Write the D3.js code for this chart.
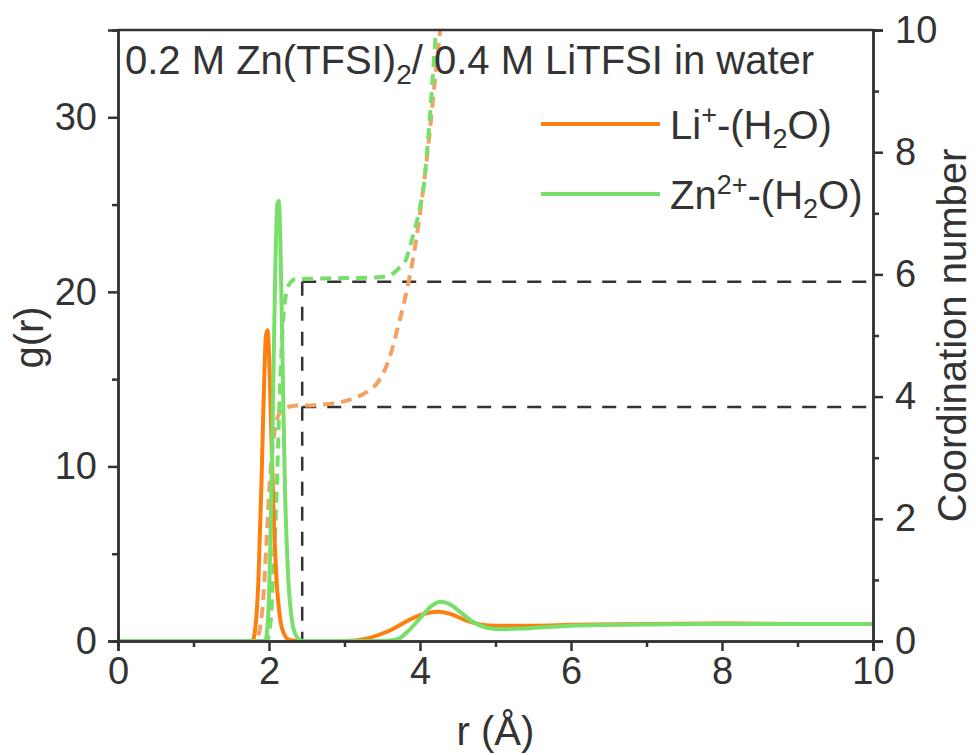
<!DOCTYPE html>
<html lang="en">
<head>
<meta charset="utf-8" />
<title>RDF and coordination number</title>
<script src="https://d3js.org/d3.v7.min.js"></script>
<style>
  body { margin: 0; background: #fff; }
  text { font-family: "Liberation Sans", Arial, sans-serif; fill: #333; }
</style>
</head>
<body>
<div id="chart"></div>
<script>
// g(r) for Li+-(H2O)
const liR = [0, 1.78, 1.82, 1.86, 1.90, 1.93, 1.96, 1.98, 2.00, 2.03, 2.06, 2.10, 2.15, 2.20, 2.28, 2.5, 3.0, 3.3, 3.6, 3.9, 4.1, 4.25, 4.4, 4.6, 4.8, 5.0, 5.5, 6, 7, 8, 9, 10];
const liG = [0, 0, 0.8, 3.5, 9, 14, 17.5, 17.8, 16.5, 12, 7.5, 3.5, 1.2, 0.4, 0.05, 0, 0, 0.15, 0.6, 1.3, 1.6, 1.68, 1.55, 1.2, 0.95, 0.88, 0.88, 0.93, 0.97, 1.0, 0.98, 0.97];

// g(r) for Zn2+-(H2O)
const znR = [0, 1.95, 1.99, 2.02, 2.05, 2.08, 2.11, 2.13, 2.15, 2.18, 2.21, 2.25, 2.30, 2.36, 2.45, 3.0, 3.5, 3.7, 3.85, 4.0, 4.15, 4.27, 4.4, 4.55, 4.7, 4.9, 5.1, 5.4, 6, 7, 8, 9, 10];
const znG = [0, 0, 1.5, 6, 13, 20.5, 25, 25.2, 23, 16, 9, 4, 1.3, 0.3, 0, 0, 0, 0.1, 0.6, 1.3, 2.0, 2.25, 2.1, 1.6, 1.1, 0.75, 0.68, 0.72, 0.88, 0.95, 0.97, 0.97, 0.97];

// coordination numbers (right axis)
const liCnR = [0, 1.82, 1.88, 1.93, 1.97, 2.01, 2.05, 2.10, 2.15, 2.22, 2.35, 2.6, 2.9, 3.1, 3.3, 3.45, 3.6, 3.7, 3.8, 3.9, 4.0, 4.1, 4.2, 4.3];
const liCn = [0, 0, 0.2, 0.8, 1.7, 2.6, 3.2, 3.6, 3.75, 3.82, 3.85, 3.86, 3.9, 3.96, 4.08, 4.25, 4.65, 5.1, 5.6, 6.2, 7.0, 8.0, 9.2, 10.4];
const znCnR = [0, 1.97, 2.02, 2.06, 2.10, 2.13, 2.16, 2.19, 2.23, 2.28, 2.35, 2.6, 3.0, 3.4, 3.55, 3.65, 3.72, 3.8, 3.9, 4.0, 4.05, 4.1, 4.15, 4.2, 4.25];
const znCn = [0, 0, 0.3, 1.2, 2.4, 3.6, 4.6, 5.3, 5.7, 5.86, 5.92, 5.93, 5.94, 5.95, 5.97, 6.02, 6.1, 6.2, 6.6, 7.1, 7.45, 8.1, 8.9, 9.8, 10.6];

// guide lines: first-shell cutoff and plateau values
const cutoffR = 2.44;
const plateauCn = [5.88, 3.83];

const xTicks = [0, 2, 4, 6, 8, 10];
const yTicks = [0, 10, 20, 30];
const cnTicks = [0, 2, 4, 6, 8, 10];

const W = 976, H = 755;
const margin = { top: 30, right: 103, bottom: 114, left: 118 };
const width = W - margin.left - margin.right;
const height = H - margin.top - margin.bottom;

const svg = d3.select("#chart").append("svg")
    .attr("width", W)
    .attr("height", H);

const g = svg.append("g")
    .attr("transform", `translate(${margin.left},${margin.top})`);

const x = d3.scaleLinear().domain([0, 10]).range([0, width]);
const y = d3.scaleLinear().domain([0, 35]).range([height, 0]);
const y2 = d3.scaleLinear().domain([0, 10]).range([height, 0]);

g.append("clipPath").attr("id", "clip")
    .append("rect").attr("width", width).attr("height", height);

const plot = g.append("g").attr("clip-path", "url(#clip)");

const pts = (xs, ys) => xs.map((v, i) => [v, ys[i]]);

// black dashed guides
plot.append("line")
    .attr("x1", x(cutoffR)).attr("x2", x(cutoffR))
    .attr("y1", y2(plateauCn[0])).attr("y2", height)
    .attr("stroke", "#333").attr("stroke-width", 2.5)
    .attr("stroke-dasharray", "14,11");
plateauCn.forEach(c => {
    plot.append("line")
        .attr("x1", x(cutoffR)).attr("x2", width)
        .attr("y1", y2(c)).attr("y2", y2(c))
        .attr("stroke", "#333").attr("stroke-width", 2.5)
        .attr("stroke-dasharray", "14,11");
});

const lineG = d3.line().x(d => x(d[0])).y(d => y(d[1])).curve(d3.curveMonotoneX);
const lineCn = d3.line().x(d => x(d[0])).y(d => y2(d[1])).curve(d3.curveMonotoneX);

// coordination number curves (dashed)
plot.append("path").datum(pts(liCnR, liCn))
    .attr("d", lineCn).attr("fill", "none")
    .attr("stroke", "#f4a263").attr("stroke-width", 4)
    .attr("stroke-dasharray", "11,7");
plot.append("path").datum(pts(znCnR, znCn))
    .attr("d", lineCn).attr("fill", "none")
    .attr("stroke", "#78e06a").attr("stroke-width", 4)
    .attr("stroke-dasharray", "11,7");

// g(r) curves
plot.append("path").datum(pts(liR, liG))
    .attr("d", lineG).attr("fill", "none")
    .attr("stroke", "#ff7f0e").attr("stroke-width", 4);
plot.append("path").datum(pts(znR, znG))
    .attr("d", lineG).attr("fill", "none")
    .attr("stroke", "#78e06a").attr("stroke-width", 4);

// axes
const styleAxis = sel => {
    sel.select(".domain").attr("stroke", "#333").attr("stroke-width", 2.5);
    sel.selectAll(".tick line").attr("stroke", "#333").attr("stroke-width", 2.5);
    sel.selectAll(".tick text").attr("fill", "#333")
        .style("font-family", "'Liberation Sans', Arial, sans-serif")
        .style("font-size", "38px");
};

// minor ticks first
g.append("g").attr("transform", `translate(0,${height})`)
    .call(d3.axisBottom(x).tickValues(d3.range(1, 10, 2)).tickSize(6).tickFormat(""))
    .call(styleAxis);
g.append("g")
    .call(d3.axisLeft(y).tickValues([5, 15, 25, 35]).tickSize(6).tickFormat(""))
    .call(styleAxis);
g.append("g").attr("transform", `translate(${width},0)`)
    .call(d3.axisRight(y2).tickValues(d3.range(1, 10, 2)).tickSize(6).tickFormat(""))
    .call(styleAxis);

g.append("g").attr("transform", `translate(0,${height})`)
    .call(d3.axisBottom(x).tickValues(xTicks).tickSize(10).tickPadding(6).tickFormat(d3.format("d")))
    .call(styleAxis);
g.append("g")
    .call(d3.axisLeft(y).tickValues(yTicks).tickSize(10).tickPadding(11).tickFormat(d3.format("d")))
    .call(styleAxis);
g.append("g").attr("transform", `translate(${width},0)`)
    .call(d3.axisRight(y2).tickValues(cnTicks).tickSize(10).tickPadding(12).tickFormat(d3.format("d")))
    .call(styleAxis);
g.append("line").attr("x1", 0).attr("x2", width).attr("y1", 0).attr("y2", 0)
    .attr("stroke", "#333").attr("stroke-width", 2.5);

// axis titles
g.append("text")
    .attr("x", width / 2).attr("y", height + 104)
    .attr("text-anchor", "middle").style("font-size", "40px")
    .text("r (Å)");
g.append("text")
    .attr("transform", `translate(${-75},${height / 2 + 2}) rotate(-90)`)
    .attr("text-anchor", "middle").style("font-size", "40px")
    .text("g(r)");
g.append("text")
    .attr("transform", `translate(${width + 93},${height / 2}) rotate(-90)`)
    .attr("text-anchor", "middle").style("font-size", "40px")
    .text("Coordination number");

// title in the plot
const title = g.append("text")
    .attr("x", 7).attr("y", 44).style("font-size", "40px");
title.append("tspan").text("0.2 M Zn(TFSI)");
title.append("tspan").attr("dy", 10).style("font-size", "28px").text("2");
title.append("tspan").attr("dy", -10).text("/ 0.4 M LiTFSI in water");

// legend
const legend = [
    { color: "#ff7f0e", ion: "Li", charge: "+", y: 94 },
    { color: "#78e06a", ion: "Zn", charge: "2+", y: 164 }
];
legend.forEach(d => {
    g.append("line")
        .attr("x1", 423).attr("x2", 542)
        .attr("y1", d.y).attr("y2", d.y)
        .attr("stroke", d.color).attr("stroke-width", 4);
    const t = g.append("text")
        .attr("x", 552).attr("y", d.y + 15).style("font-size", "40px");
    t.append("tspan").text(d.ion);
    t.append("tspan").attr("dy", -15).style("font-size", "27px").text(d.charge);
    t.append("tspan").attr("dy", 15).text("-(H");
    t.append("tspan").attr("dy", 9).style("font-size", "27px").text("2");
    t.append("tspan").attr("dy", -9).text("O)");
});
</script>
</body>
</html>
